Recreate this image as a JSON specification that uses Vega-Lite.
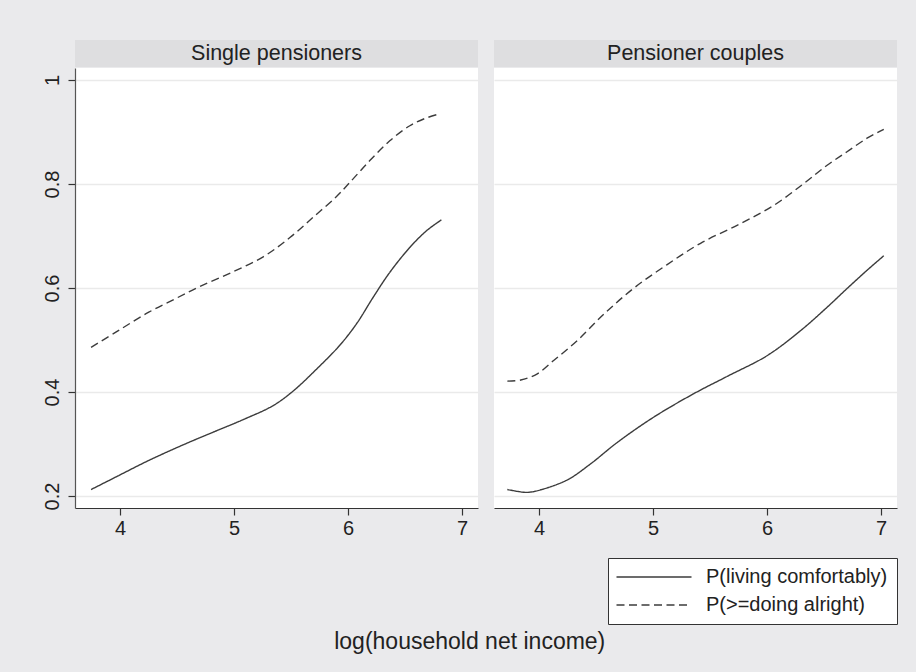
{
  "$schema": "https://vega.github.io/schema/vega-lite/v6.json",
  "background": "#EAEAEC",
  "padding": {"left": 42, "top": 40, "right": 18, "bottom": 18},
  "config": {
    "view": {"stroke": null},
    "font": "Liberation Sans"
  },
  "title": {"text": "log(household net income)", "orient": "bottom", "anchor": "middle", "fontSize": 23, "fontWeight": "normal", "color": "#222222", "font": "Liberation Sans", "offset": 6},
  "datasets": {
    "curves": [
      {"panel": "Single pensioners", "series": "P(living comfortably)", "income": 3.746, "prob": 0.2125},
      {"panel": "Single pensioners", "series": "P(living comfortably)", "income": 3.985, "prob": 0.239},
      {"panel": "Single pensioners", "series": "P(living comfortably)", "income": 4.248, "prob": 0.268},
      {"panel": "Single pensioners", "series": "P(living comfortably)", "income": 4.570, "prob": 0.300},
      {"panel": "Single pensioners", "series": "P(living comfortably)", "income": 4.830, "prob": 0.324},
      {"panel": "Single pensioners", "series": "P(living comfortably)", "income": 5.081, "prob": 0.347},
      {"panel": "Single pensioners", "series": "P(living comfortably)", "income": 5.344, "prob": 0.374},
      {"panel": "Single pensioners", "series": "P(living comfortably)", "income": 5.519, "prob": 0.402},
      {"panel": "Single pensioners", "series": "P(living comfortably)", "income": 5.724, "prob": 0.444},
      {"panel": "Single pensioners", "series": "P(living comfortably)", "income": 5.928, "prob": 0.490},
      {"panel": "Single pensioners", "series": "P(living comfortably)", "income": 6.074, "prob": 0.531},
      {"panel": "Single pensioners", "series": "P(living comfortably)", "income": 6.220, "prob": 0.582},
      {"panel": "Single pensioners", "series": "P(living comfortably)", "income": 6.366, "prob": 0.630},
      {"panel": "Single pensioners", "series": "P(living comfortably)", "income": 6.542, "prob": 0.678},
      {"panel": "Single pensioners", "series": "P(living comfortably)", "income": 6.688, "prob": 0.710},
      {"panel": "Single pensioners", "series": "P(living comfortably)", "income": 6.819, "prob": 0.731},
      {"panel": "Single pensioners", "series": "P(>=doing alright)", "income": 3.746, "prob": 0.486},
      {"panel": "Single pensioners", "series": "P(>=doing alright)", "income": 3.985, "prob": 0.518},
      {"panel": "Single pensioners", "series": "P(>=doing alright)", "income": 4.248, "prob": 0.553},
      {"panel": "Single pensioners", "series": "P(>=doing alright)", "income": 4.482, "prob": 0.579},
      {"panel": "Single pensioners", "series": "P(>=doing alright)", "income": 4.700, "prob": 0.603},
      {"panel": "Single pensioners", "series": "P(>=doing alright)", "income": 4.979, "prob": 0.630},
      {"panel": "Single pensioners", "series": "P(>=doing alright)", "income": 5.256, "prob": 0.660},
      {"panel": "Single pensioners", "series": "P(>=doing alright)", "income": 5.490, "prob": 0.697},
      {"panel": "Single pensioners", "series": "P(>=doing alright)", "income": 5.694, "prob": 0.736},
      {"panel": "Single pensioners", "series": "P(>=doing alright)", "income": 5.899, "prob": 0.776},
      {"panel": "Single pensioners", "series": "P(>=doing alright)", "income": 6.016, "prob": 0.803},
      {"panel": "Single pensioners", "series": "P(>=doing alright)", "income": 6.191, "prob": 0.845},
      {"panel": "Single pensioners", "series": "P(>=doing alright)", "income": 6.366, "prob": 0.883},
      {"panel": "Single pensioners", "series": "P(>=doing alright)", "income": 6.542, "prob": 0.912},
      {"panel": "Single pensioners", "series": "P(>=doing alright)", "income": 6.675, "prob": 0.926},
      {"panel": "Single pensioners", "series": "P(>=doing alright)", "income": 6.805, "prob": 0.935},
      {"panel": "Pensioner couples", "series": "P(living comfortably)", "income": 3.722, "prob": 0.2125},
      {"panel": "Pensioner couples", "series": "P(living comfortably)", "income": 3.810, "prob": 0.209},
      {"panel": "Pensioner couples", "series": "P(living comfortably)", "income": 3.897, "prob": 0.207},
      {"panel": "Pensioner couples", "series": "P(living comfortably)", "income": 4.015, "prob": 0.212},
      {"panel": "Pensioner couples", "series": "P(living comfortably)", "income": 4.248, "prob": 0.231},
      {"panel": "Pensioner couples", "series": "P(living comfortably)", "income": 4.453, "prob": 0.262},
      {"panel": "Pensioner couples", "series": "P(living comfortably)", "income": 4.686, "prob": 0.303},
      {"panel": "Pensioner couples", "series": "P(living comfortably)", "income": 5.008, "prob": 0.352},
      {"panel": "Pensioner couples", "series": "P(living comfortably)", "income": 5.359, "prob": 0.397},
      {"panel": "Pensioner couples", "series": "P(living comfortably)", "income": 5.650, "prob": 0.430},
      {"panel": "Pensioner couples", "series": "P(living comfortably)", "income": 6.001, "prob": 0.470},
      {"panel": "Pensioner couples", "series": "P(living comfortably)", "income": 6.294, "prob": 0.518},
      {"panel": "Pensioner couples", "series": "P(living comfortably)", "income": 6.527, "prob": 0.563},
      {"panel": "Pensioner couples", "series": "P(living comfortably)", "income": 6.702, "prob": 0.599},
      {"panel": "Pensioner couples", "series": "P(living comfortably)", "income": 6.877, "prob": 0.634},
      {"panel": "Pensioner couples", "series": "P(living comfortably)", "income": 7.024, "prob": 0.662},
      {"panel": "Pensioner couples", "series": "P(>=doing alright)", "income": 3.722, "prob": 0.421},
      {"panel": "Pensioner couples", "series": "P(>=doing alright)", "income": 3.840, "prob": 0.423},
      {"panel": "Pensioner couples", "series": "P(>=doing alright)", "income": 3.985, "prob": 0.435},
      {"panel": "Pensioner couples", "series": "P(>=doing alright)", "income": 4.131, "prob": 0.461},
      {"panel": "Pensioner couples", "series": "P(>=doing alright)", "income": 4.336, "prob": 0.499},
      {"panel": "Pensioner couples", "series": "P(>=doing alright)", "income": 4.570, "prob": 0.550},
      {"panel": "Pensioner couples", "series": "P(>=doing alright)", "income": 4.833, "prob": 0.600},
      {"panel": "Pensioner couples", "series": "P(>=doing alright)", "income": 5.124, "prob": 0.645},
      {"panel": "Pensioner couples", "series": "P(>=doing alright)", "income": 5.417, "prob": 0.686},
      {"panel": "Pensioner couples", "series": "P(>=doing alright)", "income": 5.768, "prob": 0.724},
      {"panel": "Pensioner couples", "series": "P(>=doing alright)", "income": 6.060, "prob": 0.759},
      {"panel": "Pensioner couples", "series": "P(>=doing alright)", "income": 6.323, "prob": 0.801},
      {"panel": "Pensioner couples", "series": "P(>=doing alright)", "income": 6.527, "prob": 0.836},
      {"panel": "Pensioner couples", "series": "P(>=doing alright)", "income": 6.702, "prob": 0.862},
      {"panel": "Pensioner couples", "series": "P(>=doing alright)", "income": 6.877, "prob": 0.888},
      {"panel": "Pensioner couples", "series": "P(>=doing alright)", "income": 7.024, "prob": 0.905}
    ]
  },
  "spacing": 16,
  "resolve": {"scale": {"strokeDash": "shared"}, "legend": {"strokeDash": "shared"}},
  "hconcat": [
    {
      "spacing": 1,
      "bounds": "flush",
      "vconcat": [
        {
          "width": 403, "height": 27,
          "view": {"fill": "#DEDEE0", "stroke": null},
          "data": {"values": [{"panel": "Single pensioners"}]},
          "mark": {"type": "text", "fontSize": 21.5, "color": "#222222", "font": "Liberation Sans", "baseline": "middle", "align": "center"},
          "encoding": {"text": {"field": "panel", "type": "nominal"}}
        },
        {
          "width": 403, "height": 440,
          "view": {"fill": "white", "stroke": null},
          "data": {"name": "curves"},
          "transform": [{"filter": "datum.panel === 'Single pensioners'"}],
          "mark": {"type": "line", "color": "#3c3c3c", "strokeWidth": 1.4, "interpolate": "catmull-rom"},
          "encoding": {
            "x": {"field": "income", "type": "quantitative", "scale": {"domain": [3.605, 7.14], "nice": false, "zero": false},
              "axis": {"values": [4, 5, 6, 7], "title": null, "grid": false, "domainColor": "#333333", "domainWidth": 1.2, "tickColor": "#333333", "tickWidth": 1.2, "tickSize": 7, "labelFontSize": 20, "labelColor": "#222222", "labelPadding": 3, "labelFont": "Liberation Sans"}},
            "y": {"field": "prob", "type": "quantitative", "scale": {"domain": [0.177, 1.023], "nice": false, "zero": false},
              "axis": {"values": [0.2, 0.4, 0.6, 0.8, 1], "format": "~g", "title": null, "grid": true, "gridColor": "#EAEAEA", "gridWidth": 1.5, "domainColor": "#555555", "domainWidth": 1.2, "tickColor": "#333333", "tickWidth": 1.2, "tickSize": 7, "labelAngle": 270, "labelAlign": "center", "labelBaseline": "bottom", "labelPadding": 6, "labelFontSize": 20, "labelColor": "#222222", "labelFont": "Liberation Sans"}},
            "strokeDash": {"field": "series", "type": "nominal",
              "scale": {"domain": ["P(living comfortably)", "P(>=doing alright)"], "range": [[1, 0], [8, 4.5]]},
              "legend": {"orient": "none", "legendX": 533, "legendY": 518, "title": null, "fillColor": "white", "strokeColor": "#333333", "padding": 9, "symbolType": "M-1.4,0H8.6", "symbolSize": 225, "symbolStrokeWidth": 1.4, "symbolStrokeColor": "#3c3c3c", "symbolFillColor": "transparent", "labelFontSize": 20, "labelOffset": 69, "labelLimit": 400, "labelColor": "#222222", "labelFont": "Liberation Sans", "rowPadding": 8}}
          }
        }
      ]
    },
    {
      "spacing": 1,
      "bounds": "flush",
      "vconcat": [
        {
          "width": 403, "height": 27,
          "view": {"fill": "#DEDEE0", "stroke": null},
          "data": {"values": [{"panel": "Pensioner couples"}]},
          "mark": {"type": "text", "fontSize": 21.5, "color": "#222222", "font": "Liberation Sans", "baseline": "middle", "align": "center"},
          "encoding": {"text": {"field": "panel", "type": "nominal"}}
        },
        {
          "width": 403, "height": 440,
          "view": {"fill": "white", "stroke": null},
          "data": {"name": "curves"},
          "transform": [{"filter": "datum.panel === 'Pensioner couples'"}],
          "mark": {"type": "line", "color": "#3c3c3c", "strokeWidth": 1.4, "interpolate": "catmull-rom"},
          "encoding": {
            "x": {"field": "income", "type": "quantitative", "scale": {"domain": [3.605, 7.14], "nice": false, "zero": false},
              "axis": {"values": [4, 5, 6, 7], "title": null, "grid": false, "domainColor": "#333333", "domainWidth": 1.2, "tickColor": "#333333", "tickWidth": 1.2, "tickSize": 7, "labelFontSize": 20, "labelColor": "#222222", "labelPadding": 3, "labelFont": "Liberation Sans"}},
            "y": {"field": "prob", "type": "quantitative", "scale": {"domain": [0.177, 1.023], "nice": false, "zero": false},
              "axis": {"values": [0.2, 0.4, 0.6, 0.8, 1], "title": null, "grid": true, "gridColor": "#EAEAEA", "gridWidth": 1.5, "domain": false, "ticks": false, "labels": false}},
            "strokeDash": {"field": "series", "type": "nominal",
              "scale": {"domain": ["P(living comfortably)", "P(>=doing alright)"], "range": [[1, 0], [8, 4.5]]},
              "legend": null}
          }
        }
      ]
    }
  ]
}
